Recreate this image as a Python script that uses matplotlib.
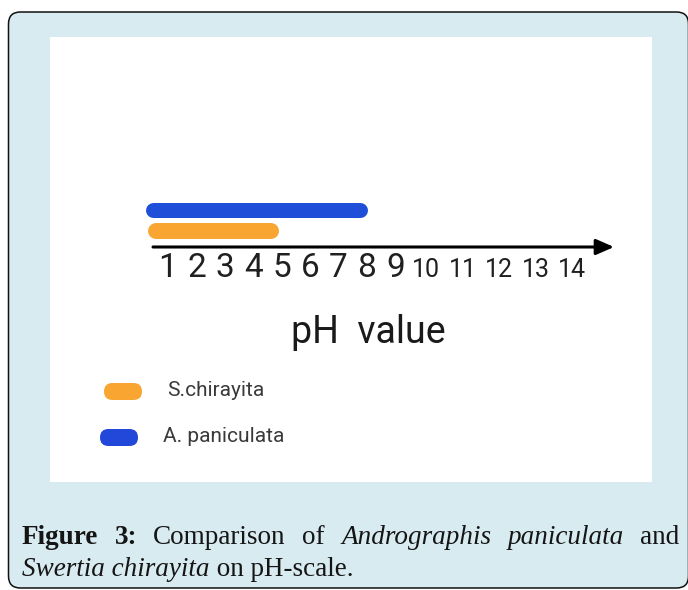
import matplotlib
matplotlib.use("Agg")
import matplotlib.pyplot as plt
from matplotlib.patches import FancyBboxPatch, Rectangle
from matplotlib.transforms import IdentityTransform

# ---------------- data ----------------
species = ["A. paniculata", "S.chirayita"]
ph_start = [0.2, 0.3]
ph_end = [8.0, 4.9]
bar_colors = ["#1f4fd8", "#f8a531"]

legend_labels = ["S.chirayita", "A. paniculata"]
legend_colors = ["#f8a531", "#2148d8"]

big_ticks = [1, 2, 3, 4, 5, 6, 7, 8, 9]
small_ticks = [10, 11, 12, 13, 14]
axis_label = "pH  value"

caption_line1 = [("Figure", "bold", "normal"), ("3:", "bold", "normal"),
                 ("Comparison", "normal", "normal"), ("of", "normal", "normal"),
                 ("Andrographis", "normal", "italic"), ("paniculata", "normal", "italic"),
                 ("and", "normal", "normal")]
caption_line2 = [("Swertia chirayita", "normal", "italic"), (" on pH-scale.", "normal", "normal")]

# ---------------- layout ----------------
W, H = 688, 590
fig = plt.figure(figsize=(W / 100, H / 100), dpi=100)
fig.patch.set_facecolor("white")
ID = IdentityTransform()

# outer rounded caption box
outer = FancyBboxPatch((8.5, 2), 680, 576, boxstyle="round,pad=0,rounding_size=12",
                       facecolor="#d8ebf1", edgecolor="#111111", linewidth=1.1,
                       transform=ID, zorder=-3)
fig.add_artist(outer)
# white chart panel
panel = Rectangle((50, H - 482), 602, 445, facecolor="white", edgecolor="none",
                  transform=ID, zorder=-2)
fig.add_artist(panel)

# chart axes covering the white panel
ax = fig.add_axes([50 / W, (H - 482) / H, 602 / W, 445 / H])
ax.axis("off")
ax.patch.set_alpha(0)
ax.set_zorder(1)
unit_px = 28.43     # pixels per pH unit
ph_at_px = lambda px: 1 + (px - 168) / unit_px
ax.set_xlim(ph_at_px(50), ph_at_px(652))
row_px = 21.5
row0_y = 209.5
row_at_px = lambda py: (py - row0_y) / row_px
ax.set_ylim(row_at_px(482), row_at_px(37))

# bars with rounded ends
bar_heights_px = [15, 16]
for i, (s, e, c, hpx) in enumerate(zip(ph_start, ph_end, bar_colors, bar_heights_px)):
    r = (hpx / 2) / unit_px
    ax.plot([s + r, e - r], [i, i], color=c, lw=hpx * 0.72, solid_capstyle="round")

# pH axis arrow
ax.annotate("", xy=(ph_at_px(614), row_at_px(247)), xytext=(ph_at_px(153), row_at_px(247)),
            arrowprops=dict(arrowstyle="-|>,head_length=0.8,head_width=0.35",
                            lw=2.2, color="black", mutation_scale=13.5,
                            shrinkA=0, shrinkB=0))

# tick labels
for v in big_ticks:
    ax.text(v, row_at_px(277), str(v), ha="center", va="baseline",
            fontsize=24, family="Roboto", color="#202020")
small_step = 36.5 / unit_px
for k, v in enumerate(small_ticks):
    ax.text(ph_at_px(426) + k * small_step, row_at_px(277), str(v), ha="center",
            va="baseline", fontsize=18, family="Roboto", color="#202020")

# axis label
ax.text(ph_at_px(368), row_at_px(343), axis_label, ha="center", va="baseline",
        fontsize=27, family="Roboto", color="#1a1a1a")

# legend (pills + text)
pill_boxes = [(104, 383, 38, 17), (100, 429, 38, 17)]
text_pos = [(167, 391), (163, 437)]
for (x, y, w, h), c, lab, (tx, ty) in zip(pill_boxes, legend_colors, legend_labels, text_pos):
    pill = FancyBboxPatch((x, H - y - h), w, h, boxstyle=f"round,pad=0,rounding_size={h/2}",
                          facecolor=c, edgecolor="none", transform=ID, zorder=2)
    fig.add_artist(pill)
    fig.text(tx, H - ty, lab, transform=ID, ha="left", va="center",
             fontsize=15, family="Roboto", color="#3a3a3a")

# caption (justified first line)
serif = "Liberation Serif"
cap_fs = 19.5
renderer = fig.canvas.get_renderer()
texts = []
for word, wt, st in caption_line1:
    t = fig.text(0, H - 544, word, transform=ID, fontsize=cap_fs, family=serif,
                 weight=wt, style=st, va="baseline", ha="left", color="#151515")
    texts.append(t)
widths = [t.get_window_extent(renderer).width for t in texts]
x_left, x_right = 22, 679
gap = (x_right - x_left - sum(widths)) / (len(texts) - 1)
x = x_left
for t, w in zip(texts, widths):
    t.set_position((x, H - 544))
    x += w + gap

x = x_left
for word, wt, st in caption_line2:
    t = fig.text(x, H - 576, word, transform=ID, fontsize=cap_fs, family=serif,
                 weight=wt, style=st, va="baseline", ha="left", color="#151515")
    x += t.get_window_extent(renderer).width

fig.savefig("out.png", dpi=100)
